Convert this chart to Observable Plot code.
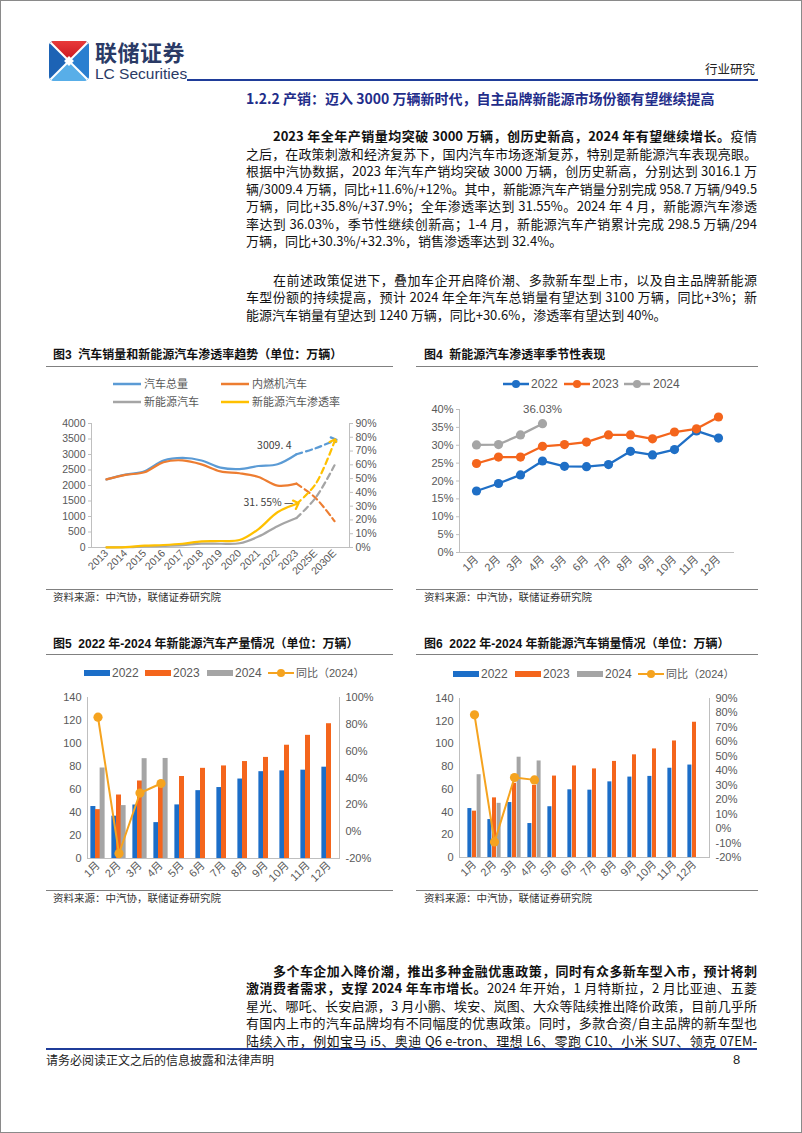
<!DOCTYPE html>
<html><head><meta charset="utf-8">
<script src="https://cdn.jsdelivr.net/npm/d3@7"></script>
<script src="https://cdn.jsdelivr.net/npm/@observablehq/plot@0.6"></script>
<style>
html,body{margin:0;padding:0;background:#fff;}
#page{position:relative;width:802px;height:1133px;box-sizing:border-box;border:1px solid #8a8a8a;overflow:hidden;font-family:"Noto Sans CJK SC",sans-serif;color:#111;}
.abs{position:absolute;white-space:nowrap;}
.ln{position:absolute;left:245px;width:511px;height:17px;line-height:17px;font-size:13px;white-space:nowrap;text-align:left;font-family:"Liberation Sans Narrow","Noto Sans CJK SC",sans-serif;color:#111;}
.ln.ind{left:272px;width:484px;}
.ln.just{text-align:justify;text-align-last:justify;white-space:normal;}
.ln b{font-weight:bold;}
.ctitle{position:absolute;font-size:12px;font-weight:bold;line-height:16px;height:16px;white-space:nowrap;font-family:"Liberation Sans","Noto Sans CJK SC",sans-serif;color:#111;}
.hr{position:absolute;height:1px;background:#808080;}
.src{position:absolute;font-size:10.5px;line-height:14px;color:#333;white-space:nowrap;}
.lg{position:absolute;font-size:11.5px;line-height:14px;color:#595959;white-space:nowrap;font-family:"Liberation Sans","Noto Sans CJK SC",sans-serif;}
svg{overflow:visible;}
</style></head>
<body>
<div id="page">
  <!-- logo -->
  <svg class="abs" style="left:48px;top:40px" width="40" height="40" viewBox="0 0 40 40">
    <defs><clipPath id="cp"><rect x="0" y="0" width="40" height="40" rx="5"/></clipPath>
    <linearGradient id="rg" x1="0" y1="0" x2="0" y2="1"><stop offset="0" stop-color="#e83a3a"/><stop offset="1" stop-color="#c8141e"/></linearGradient>
    <linearGradient id="bg" x1="0" y1="0" x2="0" y2="1"><stop offset="0" stop-color="#1f6fc0"/><stop offset="1" stop-color="#4aa3e6"/></linearGradient></defs>
    <g clip-path="url(#cp)">
      <rect width="40" height="40" fill="url(#bg)"/>
      <polygon points="0,0 40,0 20,20" fill="url(#rg)"/>
      <polygon points="0,0 20,20 0,40" fill="#1d63b5"/>
      <polygon points="40,0 20,20 40,40" fill="#2a7fd0"/>
      <polygon points="0,40 20,20 40,40" fill="#58aee8"/>
      <line x1="0" y1="0" x2="40" y2="40" stroke="#fff" stroke-width="2"/>
      <line x1="40" y1="0" x2="0" y2="40" stroke="#fff" stroke-width="2"/>
      <rect x="16.5" y="16.5" width="7" height="7" fill="#fff" transform="rotate(45 20 20)"/>
    </g>
  </svg>
  <div class="abs" style="left:94px;top:38px;font-size:22px;line-height:24px;height:24px;font-weight:bold;color:#2a3a66;letter-spacing:0.5px">联储证券</div>
  <div class="abs" style="left:94px;top:65px;font-size:15.5px;line-height:15px;height:15px;color:#2a3a66;font-family:'Liberation Sans Narrow','Liberation Sans',sans-serif">LC Securities</div>
  <div class="abs" style="left:186px;top:78px;width:571px;height:2px;background:#1f3c99"></div>
  <div class="abs" style="left:704px;top:59px;font-size:12.5px;line-height:18px;color:#222">行业研究</div>

  <div class="abs" style="left:245px;top:87px;font-size:14px;line-height:20px;font-weight:bold;color:#1f2d8a;font-family:'Liberation Sans Narrow','Noto Sans CJK SC',sans-serif">1.2.2 产销：迈入 3000 万辆新时代，自主品牌新能源市场份额有望继续提高</div>

  <div class="ln ind" style="top:126px"><span><b>2023 年全年产销量均突破 3000 万辆，创历史新高，2024 年有望继续增长。</b>疫情</span></div>
  <div class="ln" style="top:143.5px"><span>之后，在政策刺激和经济复苏下，国内汽车市场逐渐复苏，特别是新能源汽车表现亮眼。</span></div>
  <div class="ln" style="top:161px"><span>根据中汽协数据，2023 年汽车产销均突破 3000 万辆，创历史新高，分别达到 3016.1 万</span></div>
  <div class="ln" style="top:178.5px"><span>辆/3009.4 万辆，同比+11.6%/+12%。其中，新能源汽车产销量分别完成 958.7 万辆/949.5</span></div>
  <div class="ln" style="top:196px"><span>万辆，同比+35.8%/+37.9%；全年渗透率达到 31.55%。2024 年 4 月，新能源汽车渗透</span></div>
  <div class="ln" style="top:213.5px"><span>率达到 36.03%，季节性继续创新高；1-4 月，新能源汽车产销累计完成 298.5 万辆/294</span></div>
  <div class="ln last" style="top:231px"><span>万辆，同比+30.3%/+32.3%，销售渗透率达到 32.4%。</span></div>

  <div class="ln ind" style="top:269.5px"><span>在前述政策促进下，叠加车企开启降价潮、多款新车型上市，以及自主品牌新能源</span></div>
  <div class="ln" style="top:287px"><span>车型份额的持续提高，预计 2024 年全年汽车总销量有望达到 3100 万辆，同比+3%；新</span></div>
  <div class="ln last" style="top:304.5px"><span>能源汽车销量有望达到 1240 万辆，同比+30.6%，渗透率有望达到 40%。</span></div>

  <!-- chart titles -->
  <div class="ctitle" style="left:52px;top:346px">图3&nbsp; 汽车销量和新能源汽车渗透率趋势（单位：万辆）</div>
  <div class="hr" style="left:45px;top:365px;width:347px"></div>
  <div class="ctitle" style="left:423px;top:346px">图4&nbsp; 新能源汽车渗透率季节性表现</div>
  <div class="hr" style="left:415px;top:365px;width:342px"></div>
  <div class="hr" style="left:45px;top:588px;width:347px"></div>
  <div class="src" style="left:52px;top:589px">资料来源：中汽协，联储证券研究院</div>
  <div class="hr" style="left:415px;top:588px;width:342px"></div>
  <div class="src" style="left:423px;top:589px">资料来源：中汽协，联储证券研究院</div>

  <div class="ctitle" style="left:52px;top:635px">图5&nbsp; 2022 年-2024 年新能源汽车产量情况（单位：万辆）</div>
  <div class="hr" style="left:45px;top:653px;width:347px"></div>
  <div class="ctitle" style="left:423px;top:635px">图6&nbsp; 2022 年-2024 年新能源汽车销量情况（单位：万辆）</div>
  <div class="hr" style="left:415px;top:653px;width:342px"></div>
  <div class="hr" style="left:45px;top:889px;width:347px"></div>
  <div class="src" style="left:52px;top:890px">资料来源：中汽协，联储证券研究院</div>
  <div class="hr" style="left:415px;top:889px;width:342px"></div>
  <div class="src" style="left:423px;top:890px">资料来源：中汽协，联储证券研究院</div>

  <div class="ln ind" style="top:960.5px"><span><b>多个车企加入降价潮，推出多种金融优惠政策，同时有众多新车型入市，预计将刺</b></span></div>
  <div class="ln" style="top:978px"><span><b>激消费者需求，支撑 2024 年车市增长。</b>2024 年开始，1 月特斯拉，2 月比亚迪、五菱</span></div>
  <div class="ln" style="top:995.5px"><span>星光、哪吒、长安启源，3 月小鹏、埃安、岚图、大众等陆续推出降价政策，目前几乎所</span></div>
  <div class="ln" style="top:1013px"><span>有国内上市的汽车品牌均有不同幅度的优惠政策。同时，多款合资/自主品牌的新车型也</span></div>
  <div class="ln" style="top:1030.5px"><span>陆续入市，例如宝马 i5、奥迪 Q6 e-tron、理想 L6、零跑 C10、小米 SU7、领克 07EM-</span></div>

  <div class="abs" style="left:45px;top:1047px;width:711px;height:2px;background:#1f3c99"></div>
  <div class="abs" style="left:45px;top:1051px;font-size:12px;line-height:16px;color:#222">请务必阅读正文之后的信息披露和法律声明</div>
  <div class="abs" style="left:732px;top:1051px;font-size:13px;line-height:16px;color:#222;font-family:'Liberation Sans',sans-serif">8</div>
</div>
<script>
// ---------- data ----------
const years = ["2013","2014","2015","2016","2017","2018","2019","2020","2021","2022","2023","2025E","2030E"];
const totalSales = [2198,2349,2460,2803,2888,2808,2577,2531,2628,2686,3009.4,3200,3450];
const iceSales   = [2196,2342,2427,2752,2810,2682,2456,2394,2276,1997,2060,1600,850];
const nevSales   = [1.8,7.5,33,51,78,126,121,137,352,689,950,1600,2650];
const nevRate    = [0.08,0.32,1.35,1.8,2.7,4.5,4.7,5.4,13.4,25.6,31.55,46,77];

const months = ["1月","2月","3月","4月","5月","6月","7月","8月","9月","10月","11月","12月"];
const rate2022 = [17.2,19.3,21.7,25.6,24.1,24.0,24.6,28.3,27.3,28.8,34.0,32.0];
const rate2023 = [24.9,26.7,26.7,29.7,30.2,30.9,32.9,32.9,31.8,33.7,34.6,37.9];
const rate2024 = [30.1,30.2,32.9,36.03];

const prod2022 = [45.2,36.8,46.5,31.2,46.6,59.0,61.7,69.1,75.5,76.2,76.8,79.4];
const prod2023 = [42.5,55.2,67.4,64.0,71.3,78.4,80.5,84.3,87.9,98.5,107.1,117.2];
const prod2024 = [78.7,46.0,86.8,87.0];
const prodYoY  = [85.3,-16.3,28.8,35.9];

const sales2022 = [43.1,33.4,48.4,29.9,44.7,59.6,59.3,66.6,70.8,71.4,78.6,81.4];
const sales2023 = [40.8,52.5,65.3,63.6,71.7,80.6,78.0,84.6,90.4,95.6,102.6,119.1];
const sales2024 = [72.9,47.7,88.3,85.0];
const salesYoY  = [78.7,-9.2,35.3,33.7];

const axisFont = "'Liberation Sans', Arial, 'Noto Sans CJK SC', sans-serif";
const page = document.getElementById("page");
function put(el, left, top){ el.style.position="absolute"; el.style.left=left+"px"; el.style.top=top+"px"; page.appendChild(el); }
function lg(html, left, top, extra){ const d=document.createElement("div"); d.className="lg"; d.innerHTML=html; if(extra) d.style.cssText+=extra; put(d,left,top); return d; }
function lineSwatch(color, left, top, w, h, dot){ const s=document.createElementNS("http://www.w3.org/2000/svg","svg"); s.setAttribute("width",w); s.setAttribute("height",12);
  s.innerHTML=`<line x1="0" x2="${w}" y1="6" y2="6" stroke="${color}" stroke-width="${h}"/>`+(dot?`<circle cx="${w/2}" cy="6" r="4" fill="${color}"/>`:""); put(s,left,top-6); }
function rectSwatch(color, left, top){ const d=document.createElement("div"); d.style.cssText=`width:26px;height:6px;background:${color}`; put(d,left,top-3); }

// ---------- chart 3 ----------
{
  const rows = years.map((year,i)=>({year, total: totalSales[i], ice: iceSales[i], nev: nevSales[i], rate: nevRate[i]*4000/90}));
  const solid = rows.slice(0,11), dashed = rows.slice(10);
  const series = [["total","#5b9bd5"],["ice","#ed7d31"],["nev","#a5a5a5"],["rate","#ffc000"]];
  const svg = Plot.plot({
    width: 347, height: 175, marginLeft: 45, marginRight: 44, marginTop: 12, marginBottom: 39,
    style: {fontFamily: axisFont, fontSize: "10.5px", color: "#595959", background: "transparent"},
    x: {type: "point", domain: years, padding: 0.5, label: null},
    y: {domain: [0, 4000], label: null},
    marks: [
      Plot.frame({anchor: "left", stroke: "#bfbfbf"}),
      Plot.frame({anchor: "right", stroke: "#bfbfbf"}),
      Plot.ruleY([0], {stroke: "#bfbfbf"}),
      Plot.axisY({ticks: d3.range(0, 4001, 500), tickFormat: d => String(d), tickSize: 3, tickPadding: 3, stroke: "#bfbfbf", fill: "#595959", label: null}),
      Plot.axisY({anchor: "right", ticks: d3.range(0, 91, 10).map(p => p*4000/90), tickFormat: v => Math.round(v*90/4000) + "%", tickSize: 3, tickPadding: 3, stroke: "#bfbfbf", fill: "#595959", label: null}),
      Plot.axisX({tickRotate: -45, tickSize: 0, tickPadding: 4, fill: "#595959", label: null}),
      ...series.flatMap(([k, c]) => [
        Plot.line(solid, {x: "year", y: k, stroke: c, strokeWidth: 2.2, curve: "catmull-rom", markerEnd: k === "rate" ? "arrow" : "none"}),
        Plot.line(dashed, {x: "year", y: k, stroke: c, strokeWidth: 2.2, strokeDasharray: "6,4", curve: "catmull-rom", markerEnd: (k === "rate" || k === "total") ? "arrow" : "none"})
      ]),
      Plot.text([rows[10]], {x: "year", y: "total", text: d => "3009. 4", textAnchor: "end", dx: -5, dy: -9, fill: "#404040", fontSize: 10.5, fontFamily: "'Noto Sans CJK SC', sans-serif"}),
      Plot.text([rows[10]], {x: "year", y: "rate", text: d => "31. 55% —", textAnchor: "end", dx: -3, dy: -1, fill: "#404040", fontSize: 10.5, fontFamily: "'Noto Sans CJK SC', sans-serif"})
    ]
  });
  put(svg, 45, 410);
  lineSwatch("#5b9bd5", 112, 383, 28, 2.5); lg("汽车总量", 143, 376, "font-size:11px");
  lineSwatch("#ed7d31", 220, 383, 28, 2.5); lg("内燃机汽车", 251, 376, "font-size:11px");
  lineSwatch("#a5a5a5", 112, 401, 28, 2.5); lg("新能源汽车", 143, 394, "font-size:11px");
  lineSwatch("#ffc000", 220, 401, 28, 2.5); lg("新能源汽车渗透率", 251, 394, "font-size:11px");
}

// ---------- chart 4 ----------
{
  const cols = {"2022": "#1f6fc6", "2023": "#f4651c", "2024": "#a5a5a5"};
  const sets = [["2022", rate2022], ["2023", rate2023], ["2024", rate2024]].map(([y, arr]) => [y, arr.map((v, i) => ({month: months[i], v}))]);
  const svg = Plot.plot({
    width: 342, height: 190, marginLeft: 43, marginRight: 24, marginTop: 13, marginBottom: 34,
    style: {fontFamily: axisFont, fontSize: "11px", color: "#595959", background: "transparent"},
    x: {type: "point", domain: months, padding: 0.5, label: null},
    y: {domain: [0, 40], label: null},
    marks: [
      Plot.frame({anchor: "left", stroke: "#bfbfbf"}),
      Plot.ruleY([0], {stroke: "#bfbfbf"}),
      Plot.axisY({ticks: d3.range(0, 41, 5), tickFormat: d => d + "%", tickSize: 3, tickPadding: 3, stroke: "#bfbfbf", fill: "#595959", label: null}),
      Plot.axisX({tickRotate: -45, tickSize: 0, tickPadding: 5, fill: "#595959", label: null}),
      ...sets.flatMap(([y, data]) => [
        Plot.line(data, {x: "month", y: "v", stroke: cols[y], strokeWidth: 2.3}),
        Plot.dot(data, {x: "month", y: "v", r: 4.6, fill: cols[y], stroke: "none"})
      ]),
      Plot.text([{month: months[3], v: rate2024[3]}], {x: "month", y: "v", text: d => d.v.toFixed(2) + "%", dy: -14, fill: "#595959", fontSize: 11.5})
    ]
  });
  put(svg, 415, 395);
  lineSwatch(cols["2022"], 502, 383, 26, 2.5, true); lg("2022", 530, 376, "font-size:12px");
  lineSwatch(cols["2023"], 563, 383, 26, 2.5, true); lg("2023", 591, 376, "font-size:12px");
  lineSwatch(cols["2024"], 623, 383, 26, 2.5, true); lg("2024", 652, 376, "font-size:12px");
}

// ---------- charts 5 & 6 ----------
function barChart(a, b, c, yoy, pMin, pMax, pStep, left, top, width, mL, mR, mT, mB) {
  const blue = "#1c6ec8", orange = "#f4651c", gray = "#a5a5a5", yc = "#f5a31f";
  const rows = months.map((m, i) => ({month: m, a: a[i], b: b[i], c: c[i]}));
  const toY = p => (p - pMin) * 140 / (pMax - pMin);
  const yoyRows = yoy.map((p, i) => ({month: months[i], p}));
  const bw = 4.62;
  const svg = Plot.plot({
    width, height: 200, marginLeft: mL, marginRight: mR, marginTop: mT, marginBottom: mB,
    style: {fontFamily: axisFont, fontSize: "11px", color: "#595959", background: "transparent"},
    x: {type: "band", domain: months, paddingInner: 0.78, paddingOuter: 0.39, label: null},
    y: {domain: [0, 140], label: null},
    marks: [
      Plot.frame({anchor: "left", stroke: "#bfbfbf"}),
      Plot.frame({anchor: "right", stroke: "#bfbfbf"}),
      Plot.axisY({ticks: d3.range(0, 141, 20), tickSize: 0, tickPadding: 6, fill: "#595959", label: null}),
      Plot.axisY({anchor: "right", ticks: d3.range(pMin, pMax + 1, pStep).map(toY), tickFormat: v => Math.round(v * (pMax - pMin) / 140 + pMin) + "%", tickSize: 0, tickPadding: 6, fill: "#595959", label: null}),
      Plot.axisX({tickRotate: -45, tickSize: 0, tickPadding: 5, fill: "#595959", label: null}),
      Plot.barY(rows, {x: "month", y: "a", fill: blue, dx: -bw}),
      Plot.barY(rows, {x: "month", y: "b", fill: orange}),
      Plot.barY(rows.filter(d => d.c != null), {x: "month", y: "c", fill: gray, dx: bw}),
      Plot.ruleY([0], {stroke: "#bfbfbf"}),
      Plot.line(yoyRows, {x: "month", y: d => toY(d.p), stroke: yc, strokeWidth: 2}),
      Plot.dot(yoyRows, {x: "month", y: d => toY(d.p), r: 4.6, fill: yc, stroke: "none"})
    ]
  });
  put(svg, left, top);
  return {blue, orange, gray, yc};
}
{
  const k = barChart(prod2022, prod2023, prod2024, prodYoY, -20, 100, 20, 45, 685, 347, 41, 54, 11, 28);
  rectSwatch(k.blue, 83, 672); lg("2022", 111, 665, "font-size:12px");
  rectSwatch(k.orange, 144, 672); lg("2023", 172, 665, "font-size:12px");
  rectSwatch(k.gray, 206, 672); lg("2024", 234, 665, "font-size:12px");
  lineSwatch(k.yc, 267, 672, 26, 2, true); lg("同比（2024）", 295, 665, "font-size:11px");
}
{
  const k = barChart(sales2022, sales2023, sales2024, salesYoY, -20, 90, 10, 415, 685, 342, 43, 49, 12, 29);
  rectSwatch(k.blue, 452, 673); lg("2022", 480, 666, "font-size:12px");
  rectSwatch(k.orange, 514, 673); lg("2023", 542, 666, "font-size:12px");
  rectSwatch(k.gray, 576, 673); lg("2024", 604, 666, "font-size:12px");
  lineSwatch(k.yc, 637, 673, 26, 2, true); lg("同比（2024）", 665, 666, "font-size:11px");
}

// ---------- fit body text lines ----------
document.querySelectorAll(".ln").forEach(div => {
  const span = div.firstElementChild;
  const w = span.getBoundingClientRect().width;
  const W = div.clientWidth;
  if (w > W) {
    span.style.display = "block";
    span.style.width = w + "px";
    span.style.height = "17px";
    span.style.transformOrigin = "0 0";
    span.style.transform = `scaleX(${W / w})`;
  } else if (!div.classList.contains("last")) {
    div.classList.add("just");
  }
});
</script>
</body></html>
